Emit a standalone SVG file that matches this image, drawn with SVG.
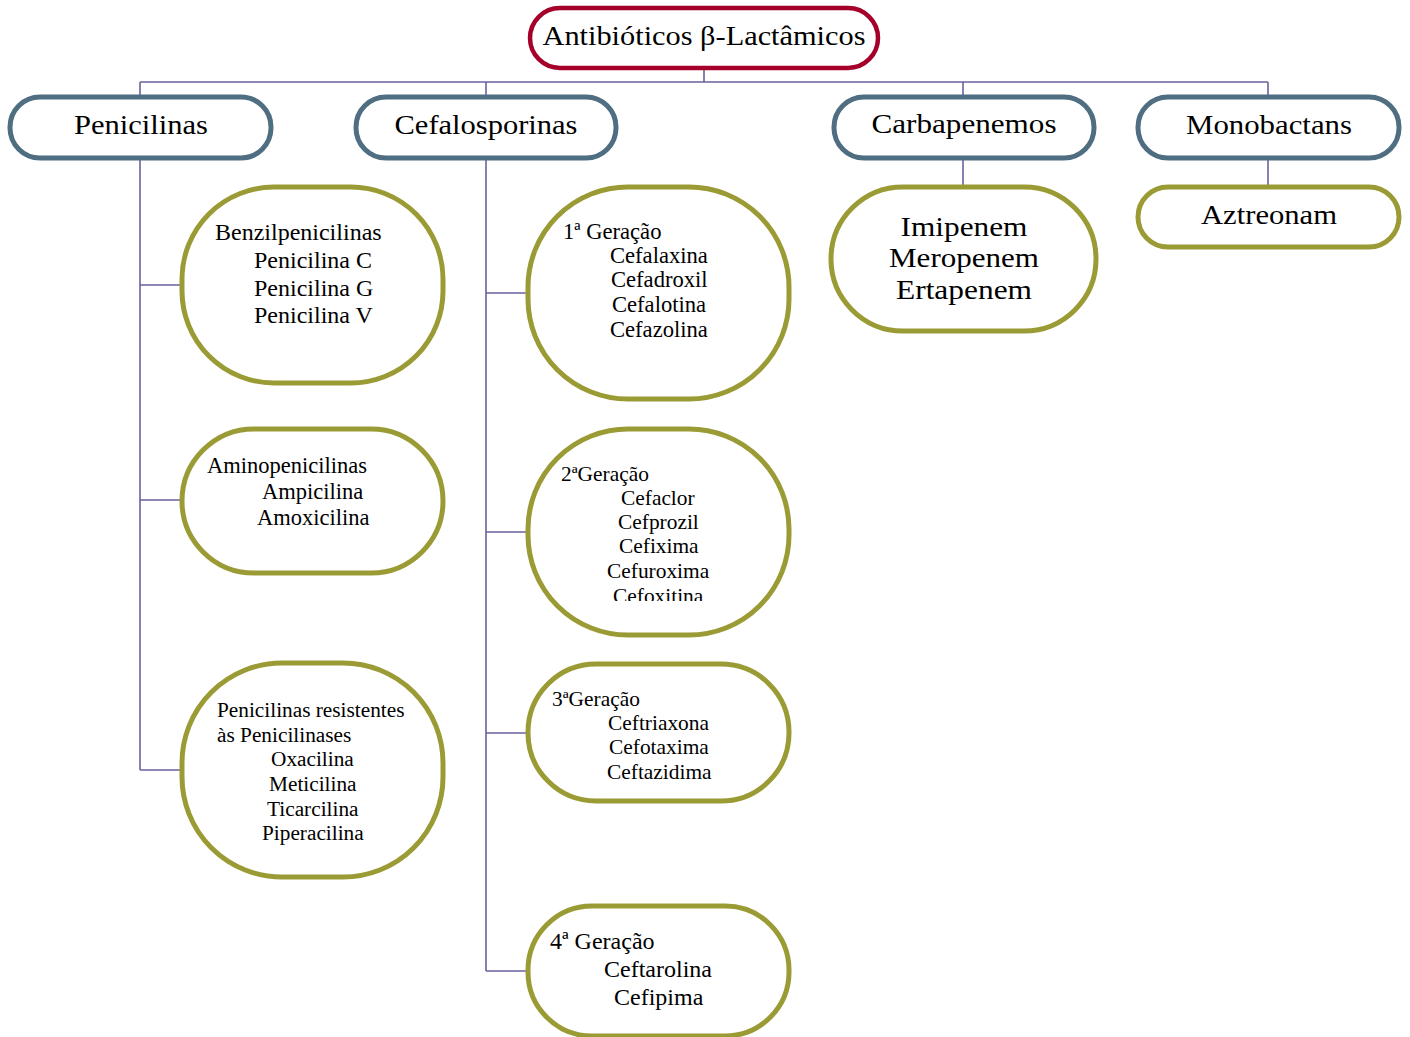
<svg xmlns="http://www.w3.org/2000/svg" width="1410" height="1037" viewBox="0 0 1410 1037">
<style>
.bg{fill:#ffffff}
.root{fill:#fff;stroke:#A5002A;stroke-width:4.5}
.cat{fill:#fff;stroke:#4F6E82;stroke-width:5}
.leaf{fill:#fff;stroke:#9B9B36;stroke-width:5}
.con{fill:none;stroke:#6A62A0;stroke-width:1.6}
.big{font-family:"Liberation Serif","Times New Roman",serif;font-size:28px;fill:#000;text-anchor:middle}
.t{font-family:"Liberation Serif","Times New Roman",serif;fill:#000}
</style>
<defs>
<clipPath id="clip2"><rect x="520" y="420" width="280" height="181"/></clipPath>
</defs>
<rect class="bg" x="0" y="0" width="1410" height="1037"/>
<g id="connectors">
<path class="con" d="M704,68 V82 M140,82 H1268 M140,82 V97 M486,82 V97 M963,82 V97 M1268,82 V97"/>
<path class="con" d="M140,158 V770 M140,285 H182 M140,500 H182 M140,770 H182"/>
<path class="con" d="M486,158 V971 M486,293 H528 M486,532 H528 M486,733 H528 M486,971 H528"/>
<path class="con" d="M963,158 V187 M1268,158 V187"/>
</g>
<g id="root">
<rect class="root" x="530" y="8" width="348" height="60" rx="30"/>
<text class="big" x="704" y="45" textLength="323" lengthAdjust="spacingAndGlyphs">Antibióticos β-Lactâmicos</text>
</g>
<g id="penicilinas">
<rect class="cat" x="10" y="97" width="261" height="61" rx="30"/>
<text class="big" x="141" y="134" textLength="134" lengthAdjust="spacingAndGlyphs">Penicilinas</text>
</g>
<g id="cefalosporinas">
<rect class="cat" x="356" y="97" width="260" height="61" rx="30"/>
<text class="big" x="486" y="134" textLength="183" lengthAdjust="spacingAndGlyphs">Cefalosporinas</text>
</g>
<g id="carbapenemos">
<rect class="cat" x="834" y="97" width="260" height="61" rx="30"/>
<text class="big" x="964" y="133" textLength="185" lengthAdjust="spacingAndGlyphs">Carbapenemos</text>
</g>
<g id="monobactans">
<rect class="cat" x="1138" y="97" width="261" height="61" rx="30"/>
<text class="big" x="1269" y="134" textLength="166" lengthAdjust="spacingAndGlyphs">Monobactans</text>
</g>
<g id="benzilpenicilinas">
<rect class="leaf" x="182" y="187" width="261" height="196" rx="92"/>
<text class="t" style="font-size:24px"><tspan x="215" y="240">Benzilpenicilinas</tspan><tspan x="254" y="268">Penicilina C</tspan><tspan x="254" y="296">Penicilina G</tspan><tspan x="254" y="323">Penicilina V</tspan></text>
</g>
<g id="aminopenicilinas">
<rect class="leaf" x="182" y="429" width="261" height="144" rx="72"/>
<text class="t" style="font-size:22.5px"><tspan x="207" y="473">Aminopenicilinas</tspan><tspan x="262" y="499">Ampicilina</tspan><tspan x="257" y="525">Amoxicilina</tspan></text>
</g>
<g id="resistentes">
<rect class="leaf" x="182" y="663" width="261" height="214" rx="100"/>
<text class="t" style="font-size:21.3px"><tspan x="217" y="717">Penicilinas resistentes</tspan><tspan x="217" y="742">às Penicilinases</tspan><tspan x="271" y="766">Oxacilina</tspan><tspan x="269" y="791">Meticilina</tspan><tspan x="267" y="816">Ticarcilina</tspan><tspan x="262" y="840">Piperacilina</tspan></text>
</g>
<g id="geracao1">
<rect class="leaf" x="528" y="187" width="261" height="212" rx="100"/>
<text class="t" style="font-size:22.6px"><tspan x="563" y="239">1ª Geração</tspan><tspan x="610" y="263">Cefalaxina</tspan><tspan x="611" y="287">Cefadroxil</tspan><tspan x="612" y="312">Cefalotina</tspan><tspan x="610" y="337">Cefazolina</tspan></text>
</g>
<g id="geracao2">
<rect class="leaf" x="528" y="429" width="261" height="206" rx="100"/>
<text class="t" style="font-size:21.4px" clip-path="url(#clip2)"><tspan x="561" y="481">2ªGeração</tspan><tspan x="621" y="505">Cefaclor</tspan><tspan x="618" y="529">Cefprozil</tspan><tspan x="619" y="553">Cefixima</tspan><tspan x="607" y="578">Cefuroxima</tspan><tspan x="613" y="603">Cefoxitina</tspan></text>
</g>
<g id="geracao3">
<rect class="leaf" x="528" y="664" width="261" height="137" rx="68"/>
<text class="t" style="font-size:21.4px"><tspan x="552" y="706">3ªGeração</tspan><tspan x="608" y="730">Ceftriaxona</tspan><tspan x="609" y="754">Cefotaxima</tspan><tspan x="607" y="779">Ceftazidima</tspan></text>
</g>
<g id="geracao4">
<rect class="leaf" x="528" y="906" width="261" height="130" rx="64"/>
<text class="t" style="font-size:24px"><tspan x="550" y="949">4ª Geração</tspan><tspan x="604" y="977">Ceftarolina</tspan><tspan x="614" y="1005">Cefipima</tspan></text>
</g>
<g id="carbapenemos-lista">
<rect class="leaf" x="831" y="187" width="265" height="144" rx="72"/>
<text class="big" x="964" y="236" textLength="127" lengthAdjust="spacingAndGlyphs">Imipenem</text>
<text class="big" x="964" y="267" textLength="150" lengthAdjust="spacingAndGlyphs">Meropenem</text>
<text class="big" x="964" y="299" textLength="136" lengthAdjust="spacingAndGlyphs">Ertapenem</text>
</g>
<g id="aztreonam">
<rect class="leaf" x="1138" y="187" width="261" height="60" rx="30"/>
<text class="big" x="1269" y="224" textLength="136" lengthAdjust="spacingAndGlyphs">Aztreonam</text>
</g>
</svg>
